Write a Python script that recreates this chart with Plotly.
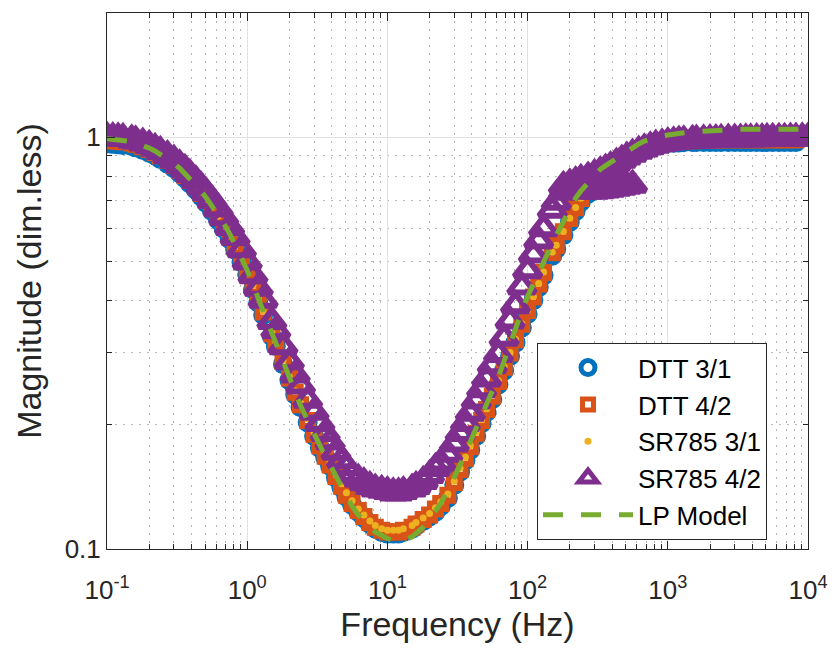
import plotly.graph_objects as go

# ---------------- data ----------------
freq_hz = [
    0.10, 0.11, 0.12, 0.13, 0.15, 0.16, 0.18, 0.20, 0.22, 0.24, 0.27, 0.30,
    0.33, 0.36, 0.39, 0.43, 0.47, 0.51, 0.56, 0.62, 0.68, 0.75, 0.82, 0.91,
    1.0, 1.1, 1.2, 1.3, 1.5, 1.6, 1.8, 2.0, 2.2, 2.4, 2.7, 3.0,
    3.3, 3.6, 3.9, 4.3, 4.7, 5.1, 5.6, 6.2, 6.8, 7.5, 8.2, 9.1,
    10, 11, 12, 13, 15, 16, 18, 20, 22, 24, 27, 30,
    33, 36, 39, 43, 47, 51, 56, 62, 68, 75, 82, 91,
    100, 110, 120, 130, 150, 160, 180, 200, 220, 240, 270, 300,
    330, 360, 390, 430, 470, 510, 560, 620, 680, 750, 820, 910,
    1000, 1100, 1200, 1300, 1500, 1600, 1800, 2000, 2200, 2400, 2700, 3000,
    3300, 3600, 3900, 4300, 4700, 5100, 5600, 6200, 6800, 7500, 8200, 9100,
    10000,
]

lp_model = [
    0.990, 0.988, 0.985, 0.982, 0.975, 0.968, 0.955, 0.940, 0.925, 0.908, 0.885, 0.862,
    0.840, 0.815, 0.792, 0.766, 0.738, 0.712, 0.682, 0.648, 0.617, 0.582, 0.548, 0.510,
    0.475, 0.437, 0.405, 0.378, 0.334, 0.315, 0.284, 0.259, 0.239, 0.223, 0.205, 0.190,
    0.178, 0.168, 0.160, 0.150, 0.141, 0.134, 0.127, 0.121, 0.117, 0.113, 0.110, 0.108,
    0.106, 0.105, 0.105, 0.105, 0.107, 0.109, 0.113, 0.118, 0.123, 0.129, 0.139, 0.149,
    0.160, 0.171, 0.182, 0.196, 0.211, 0.226, 0.240, 0.262, 0.286, 0.315, 0.345, 0.378,
    0.410, 0.441, 0.470, 0.503, 0.552, 0.577, 0.624, 0.670, 0.711, 0.740, 0.775, 0.812,
    0.835, 0.852, 0.868, 0.886, 0.905, 0.922, 0.942, 0.962, 0.978, 0.990, 0.998, 1.006,
    1.012, 1.017, 1.021, 1.024, 1.029, 1.031, 1.034, 1.037, 1.039, 1.040, 1.042, 1.043,
    1.044, 1.045, 1.045, 1.045, 1.045, 1.045, 1.045, 1.045, 1.045, 1.045, 1.045, 1.045,
    1.045,
]

dtt_3_1 = [
    0.965, 0.963, 0.960, 0.957, 0.951, 0.944, 0.931, 0.916, 0.902, 0.885, 0.862, 0.840,
    0.817, 0.794, 0.771, 0.745, 0.717, 0.692, 0.662, 0.629, 0.599, 0.565, 0.533, 0.497,
    0.464, 0.427, 0.397, 0.370, 0.328, 0.311, 0.281, 0.257, 0.237, 0.221, 0.203, 0.188,
    0.176, 0.167, 0.159, 0.149, 0.141, 0.134, 0.128, 0.123, 0.119, 0.115, 0.112, 0.110,
    0.109, 0.109, 0.109, 0.110, 0.112, 0.114, 0.117, 0.120, 0.123, 0.127, 0.133, 0.143,
    0.154, 0.164, 0.174, 0.188, 0.202, 0.215, 0.231, 0.251, 0.271, 0.294, 0.317, 0.345,
    0.372, 0.402, 0.432, 0.461, 0.515, 0.535, 0.578, 0.622, 0.661, 0.696, 0.729, 0.760,
    0.784, 0.809, 0.831, 0.849, 0.870, 0.888, 0.905, 0.922, 0.937, 0.948, 0.957, 0.963,
    0.967, 0.969, 0.970, 0.971, 0.972, 0.972, 0.972, 0.972, 0.972, 0.972, 0.972, 0.972,
    0.972, 0.972, 0.972, 0.972, 0.972, 0.972, 0.972, 0.972, 0.972, 0.972, 0.972, None,
    None,
]

dtt_4_2 = [
    0.982, 0.980, 0.977, 0.974, 0.967, 0.960, 0.947, 0.932, 0.917, 0.900, 0.877, 0.854,
    0.831, 0.807, 0.784, 0.757, 0.729, 0.703, 0.673, 0.639, 0.608, 0.574, 0.541, 0.504,
    0.470, 0.434, 0.403, 0.376, 0.333, 0.315, 0.285, 0.260, 0.240, 0.224, 0.205, 0.190,
    0.178, 0.168, 0.160, 0.150, 0.142, 0.135, 0.129, 0.124, 0.120, 0.116, 0.113, 0.111,
    0.110, 0.110, 0.110, 0.111, 0.113, 0.115, 0.118, 0.121, 0.125, 0.129, 0.135, 0.145,
    0.156, 0.166, 0.177, 0.191, 0.205, 0.218, 0.235, 0.255, 0.276, 0.299, 0.322, 0.351,
    0.379, 0.409, 0.440, 0.469, 0.524, 0.545, 0.589, 0.634, 0.673, 0.709, 0.743, 0.774,
    0.799, 0.824, 0.847, 0.865, 0.884, 0.899, 0.914, 0.929, 0.942, 0.952, 0.961, 0.967,
    0.971, 0.974, 0.976, 0.978, 0.980, 0.981, 0.982, 0.983, 0.984, 0.985, 0.985, 0.985,
    0.985, 0.985, 0.985, 0.985, 0.985, 0.985, 0.985, 0.985, 0.985, 0.985, 0.985, None,
    None,
]

sr785_3_1 = [
    0.985, 0.983, 0.980, 0.977, 0.970, 0.963, 0.950, 0.935, 0.920, 0.903, 0.880, 0.857,
    0.834, 0.810, 0.787, 0.760, 0.732, 0.706, 0.676, 0.642, 0.611, 0.577, 0.544, 0.507,
    0.473, 0.436, 0.405, 0.378, 0.335, 0.317, 0.287, 0.262, 0.242, 0.226, 0.207, 0.192,
    0.180, 0.170, 0.162, 0.152, 0.144, 0.137, 0.131, 0.125, 0.121, 0.117, 0.114, 0.112,
    0.111, 0.111, 0.111, 0.112, 0.114, 0.116, 0.119, 0.122, 0.126, 0.130, 0.136, 0.146,
    0.157, 0.167, 0.178, 0.192, 0.206, 0.219, 0.236, 0.256, 0.277, 0.300, 0.323, 0.352,
    0.380, 0.410, 0.441, 0.470, 0.525, 0.546, 0.590, 0.635, 0.674, 0.710, 0.744, 0.775,
    0.800, 0.825, 0.848, 0.866, 0.885, 0.900, 0.915, 0.930, 0.943, 0.953, 0.962, 0.968,
    0.972, 0.975, 0.977, 0.979, 0.981, 0.982, 0.983, 0.984, 0.985, 0.985, 0.985, 0.985,
    0.985, 0.985, 0.985, 0.985, 0.985, 0.985, 0.985, 0.985, 0.985, 0.985, 0.985, 0.985,
    0.985,
]

# SR785 4/2, first span (ends with a flat stretch near 0.75 around 200-560 Hz)
sr785_4_2 = [
    1.000, 0.998, 0.996, 0.993, 0.985, 0.980, 0.968, 0.955, 0.940, 0.924, 0.902, 0.880,
    0.857, 0.835, 0.812, 0.785, 0.758, 0.733, 0.703, 0.670, 0.638, 0.604, 0.571, 0.533,
    0.498, 0.461, 0.430, 0.402, 0.357, 0.339, 0.310, 0.285, 0.265, 0.249, 0.230, 0.215,
    0.202, 0.191, 0.182, 0.172, 0.164, 0.158, 0.152, 0.148, 0.145, 0.142, 0.140, 0.139,
    0.138, 0.137, 0.137, 0.138, 0.140, 0.142, 0.146, 0.151, 0.157, 0.162, 0.170, 0.180,
    0.191, 0.202, 0.214, 0.229, 0.244, 0.259, 0.279, 0.297, 0.325, 0.358, 0.390, 0.433,
    0.474, 0.518, 0.560, 0.600, 0.665, 0.695, 0.735, 0.745, 0.745, 0.742, 0.740, 0.740,
    0.742, 0.745, 0.748, 0.752, 0.756, 0.760, 0.765, None, None, None, None, None,
    None, None, None, None, None, None, None, None, None, None, None, None,
    None, None, None, None, None, None, None, None, None, None, None, None,
    None,
]

# SR785 4/2, second span (upper branch up to 10 kHz)
sr785_4_2_hi_freq = [
    180, 200, 220, 240, 270, 300, 330, 360, 390, 430, 470, 510, 560, 620, 680, 750,
    820, 910, 1000, 1100, 1200, 1300, 1500, 1600, 1800, 2000, 2200, 2400, 2700, 3000,
    3300, 3600, 3900, 4300, 4700, 5100, 5600, 6200, 6800, 7500, 8200, 9100, 10000,
]
sr785_4_2_hi = [
    0.760, 0.770, 0.780, 0.790, 0.800, 0.812, 0.825, 0.837, 0.848, 0.865, 0.880, 0.895,
    0.910, 0.925, 0.937, 0.948, 0.957, 0.964, 0.970, 0.975, 0.978, 0.980, 0.983, 0.984,
    0.985, 0.986, 0.987, 0.988, 0.989, 0.990, 0.990, 0.991, 0.991, 0.992, 0.992, 0.993,
    0.993, 0.994, 0.994, 0.995, 0.995, 0.996, 0.996,
]

x_tick_vals = [0.1, 1, 10, 100, 1000, 10000]
x_tick_text = ["10<sup>-1</sup>", "10<sup>0</sup>", "10<sup>1</sup>",
               "10<sup>2</sup>", "10<sup>3</sup>", "10<sup>4</sup>"]
y_tick_vals = [0.1, 1]
y_tick_text = ["0.1", "1"]

series_names = ["DTT 3/1", "DTT 4/2", "SR785 3/1", "SR785 4/2", "LP Model"]

# ---------------- figure ----------------
FONT = "Liberation Sans, Arial, Helvetica, sans-serif"
AXC = "#262626"

fig = go.Figure()

fig.add_trace(go.Scatter(
    x=freq_hz, y=dtt_3_1, mode="markers", name=series_names[0],
    marker=dict(symbol="circle-open", size=14, color="#0072BD",
                line=dict(width=6, color="#0072BD")),
))
fig.add_trace(go.Scatter(
    x=freq_hz, y=dtt_4_2, mode="markers", name=series_names[1],
    marker=dict(symbol="square-open", size=11, color="#D95319",
                line=dict(width=6, color="#D95319")),
))
fig.add_trace(go.Scatter(
    x=freq_hz, y=sr785_3_1, mode="markers", name=series_names[2],
    marker=dict(symbol="circle", size=7, color="#EDB120", line=dict(width=0)),
))
fig.add_trace(go.Scatter(
    x=freq_hz + sr785_4_2_hi_freq, y=sr785_4_2 + sr785_4_2_hi,
    mode="markers", name=series_names[3],
    marker=dict(symbol="triangle-up-open", size=23, color="#7E2F8E",
                line=dict(width=6, color="#7E2F8E")),
))
fig.add_trace(go.Scatter(
    x=freq_hz, y=lp_model, mode="lines", name=series_names[4],
    line=dict(color="#77AC30", width=5, dash="20px,18px"),
))

x_minor = [k * 10.0 ** e for e in range(-1, 4) for k in range(2, 10)]
y_minor = [0.2, 0.3, 0.4, 0.5, 0.6, 0.7, 0.8, 0.9, 2.0]


def axis_style(minor_vals):
    return dict(
        type="log", showline=True, linecolor=AXC, linewidth=1, mirror="allticks",
        ticks="inside", ticklen=8, tickwidth=1, tickcolor=AXC,
        showgrid=True, gridcolor="#e2e2e2", gridwidth=1, zeroline=False,
        tickfont=dict(family=FONT, size=26, color=AXC),
        minor=dict(tickmode="array", tickvals=minor_vals, ticks="inside", ticklen=5,
                   tickwidth=1, tickcolor=AXC, showgrid=True, gridcolor="#b8b8b8",
                   griddash="2px,6px", gridwidth=1),
    )


xa = axis_style(x_minor)
xa.update(range=[-1, 4], tickmode="array", tickvals=x_tick_vals, ticktext=x_tick_text,
          ticklabelstandoff=18,
          title=dict(text="Frequency (Hz)", font=dict(family=FONT, size=34, color=AXC),
                     standoff=4))
ya = axis_style(y_minor)
ya.update(range=[-1, 0.30103], tickmode="array", tickvals=y_tick_vals, ticktext=y_tick_text,
          title=dict(text="Magnitude (dim.less)", font=dict(family=FONT, size=34, color=AXC),
                     standoff=12))

# the page body keeps its default 8px margin, so the figure is 8px smaller
fig.update_layout(
    width=829, height=651,
    margin=dict(l=99, r=29, t=5, b=110),
    paper_bgcolor="white", plot_bgcolor="white",
    font=dict(family=FONT, color=AXC),
    xaxis=xa, yaxis=ya,
    showlegend=True,
    legend=dict(x=0.6134, y=0.384, xanchor="left", yanchor="top",
                bgcolor="white", bordercolor=AXC, borderwidth=1,
                font=dict(family=FONT, size=26, color="black"),
                itemwidth=90, tracegroupgap=0),
)

fig.write_html("out.html")
